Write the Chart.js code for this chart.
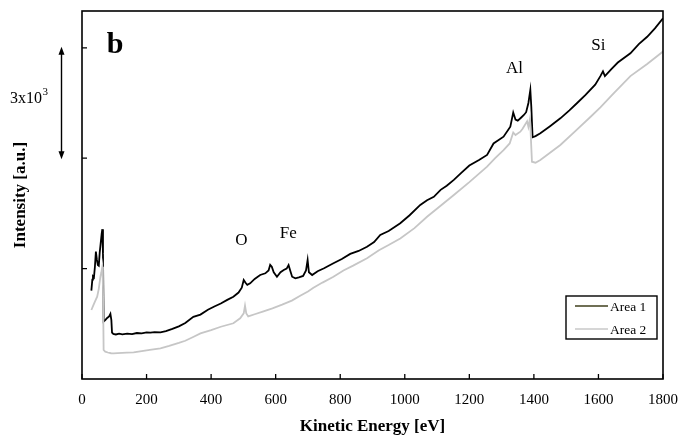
<!DOCTYPE html>
<html>
<head>
<meta charset="utf-8">
<script src="https://cdn.jsdelivr.net/npm/chart.js@4.4.1/dist/chart.umd.min.js"></script>
<style>
  html, body { margin: 0; padding: 0; background: #fff; }
  #wrap { width: 679px; height: 439px; }
</style>
</head>
<body>
<div id="wrap"><canvas id="aes"></canvas></div>
<script>
// Spectrum values (kinetic energy in eV, intensity in a.u.)
const energyArea1 = [29, 32, 34, 37, 40, 43, 46, 49, 52, 55, 58, 61, 63, 65, 67, 72, 78, 84, 88, 91, 93, 97, 105, 115, 125, 140, 155, 170, 185, 200, 212, 225, 243, 260, 280, 300, 320, 345, 367, 390, 410, 430, 450, 469, 485, 495, 501, 506, 512, 521, 535, 552, 568, 578, 583, 588, 594, 604, 615, 625, 634, 640, 645, 651, 661, 672, 685, 694, 699, 703, 713, 730, 750, 779, 805, 831, 857, 883, 905, 924, 950, 986, 1015, 1048, 1069, 1090, 1111, 1130, 1152, 1175, 1200, 1230, 1255, 1275, 1306, 1327, 1336, 1343, 1350, 1360, 1369, 1376, 1383, 1389, 1392, 1396, 1405, 1420, 1450, 1482, 1510, 1534, 1560, 1590, 1606, 1614, 1620, 1640, 1660, 1699, 1725, 1751, 1775, 1800];
const intensityArea1 = [2400, 2700, 2790, 2760, 3050, 3460, 3250, 3100, 3080, 3450, 3700, 3950, 4070, 3400, 1560, 1600, 1660, 1700, 1770, 1600, 1260, 1223, 1210, 1230, 1215, 1235, 1220, 1250, 1240, 1265, 1258, 1275, 1269, 1300, 1360, 1430, 1520, 1690, 1750, 1880, 1970, 2050, 2150, 2236, 2350, 2480, 2690, 2620, 2560, 2600, 2720, 2826, 2872, 2950, 3100, 3050, 2900, 2780, 2900, 2960, 3000, 3098, 2950, 2780, 2736, 2760, 2800, 2950, 3234, 2900, 2826, 2930, 3010, 3144, 3260, 3400, 3480, 3595, 3720, 3913, 4020, 4231, 4450, 4730, 4860, 4950, 5140, 5250, 5410, 5600, 5800, 5950, 6090, 6400, 6584, 6856, 7240, 7050, 7020, 7100, 7174, 7250, 7500, 7853, 7400, 6568, 6600, 6677, 6870, 7084, 7300, 7500, 7720, 8000, 8230, 8360, 8230, 8420, 8600, 8850, 9100, 9300, 9530, 9800];

const energyArea2 = [29, 35, 40, 47, 52, 57, 60, 63, 65, 67, 72, 80, 90, 98, 110, 125, 139, 160, 185, 210, 243, 270, 300, 320, 346, 367, 400, 430, 469, 490, 501, 505, 509, 515, 535, 560, 590, 620, 650, 676, 700, 717, 745, 779, 810, 840, 883, 920, 950, 986, 1030, 1069, 1110, 1152, 1200, 1255, 1280, 1306, 1325, 1336, 1343, 1358, 1365, 1372, 1379, 1383, 1388, 1394, 1405, 1420, 1450, 1482, 1530, 1575, 1606, 1647, 1699, 1751, 1800];
const intensityArea2 = [1875, 2000, 2100, 2236, 2450, 2780, 2900, 3052, 2500, 788, 742, 720, 700, 698, 705, 710, 715, 725, 760, 790, 834, 900, 980, 1040, 1149, 1240, 1330, 1420, 1514, 1650, 1785, 1990, 1780, 1700, 1760, 1830, 1920, 2020, 2130, 2260, 2380, 2480, 2620, 2780, 2950, 3080, 3280, 3500, 3640, 3820, 4100, 4410, 4700, 5000, 5350, 5770, 6000, 6220, 6400, 6700, 6630, 6720, 6800, 6900, 7000, 6850, 7080, 5905, 5878, 5950, 6150, 6360, 6750, 7120, 7380, 7760, 8230, 8560, 8900];

const seriesNames = ["Area 1", "Area 2"];
const xTickValues = [0, 200, 400, 600, 800, 1000, 1200, 1400, 1600, 1800];
const yTickValues = [3000, 6000, 9000];

// Element labels placed at (energy, intensity)
const peakLabels = ["O", "Fe", "Al", "Si"];
const peakLabelEnergy = [494, 639, 1340, 1600];
const peakLabelIntensity = [3750, 3940, 8424, 9049];

const SERIF = "'Liberation Serif', 'Times New Roman', serif";

function toPoints(xs, ys) {
  return xs.map((x, i) => ({ x: x, y: ys[i] }));
}

// Frame, inward ticks, labels, scale arrow and legend
const decorations = {
  id: "decorations",
  afterDraw(chart) {
    const ctx = chart.ctx;
    const area = chart.chartArea;
    const xs = chart.scales.x;
    const ys = chart.scales.y;
    ctx.save();

    // frame
    ctx.strokeStyle = "#000";
    ctx.lineWidth = 1.6;
    ctx.strokeRect(area.left, area.top, area.right - area.left, area.bottom - area.top);

    // inward tick marks
    ctx.lineWidth = 1.3;
    ctx.beginPath();
    xTickValues.forEach((v) => {
      const px = xs.getPixelForValue(v);
      ctx.moveTo(px, area.bottom);
      ctx.lineTo(px, area.bottom - 5);
    });
    yTickValues.forEach((v) => {
      const py = ys.getPixelForValue(v);
      ctx.moveTo(area.left, py);
      ctx.lineTo(area.left + 5, py);
    });
    ctx.stroke();

    // peak labels
    ctx.fillStyle = "#000";
    ctx.font = "17px " + SERIF;
    ctx.textAlign = "center";
    ctx.textBaseline = "middle";
    peakLabels.forEach((t, i) => {
      ctx.fillText(t, xs.getPixelForValue(peakLabelEnergy[i]), ys.getPixelForValue(peakLabelIntensity[i]));
    });

    // panel letter
    ctx.font = "bold 30px " + SERIF;
    ctx.fillText("b", 115, 45);

    // scale arrow: 3x10^3 between ticks 6000 and 9000
    const ax = 61.5;
    const yTop = ys.getPixelForValue(9000);
    const yBot = ys.getPixelForValue(6000);
    ctx.lineWidth = 1.4;
    ctx.beginPath();
    ctx.moveTo(ax, yTop + 5);
    ctx.lineTo(ax, yBot - 5);
    ctx.stroke();
    ctx.beginPath();
    ctx.moveTo(ax, yTop - 1);
    ctx.lineTo(ax - 3, yTop + 7);
    ctx.lineTo(ax + 3, yTop + 7);
    ctx.closePath();
    ctx.moveTo(ax, yBot + 1);
    ctx.lineTo(ax - 3, yBot - 7);
    ctx.lineTo(ax + 3, yBot - 7);
    ctx.closePath();
    ctx.fill();

    ctx.textAlign = "left";
    ctx.textBaseline = "alphabetic";
    ctx.font = "16px " + SERIF;
    ctx.fillText("3x10", 10, 103);
    const baseW = ctx.measureText("3x10").width;
    ctx.font = "11px " + SERIF;
    ctx.fillText("3", 10 + baseW + 0.5, 95);

    // legend
    const lx = 566, ly = 296, lw = 91, lh = 43;
    ctx.fillStyle = "#fff";
    ctx.fillRect(lx, ly, lw, lh);
    ctx.strokeStyle = "#000";
    ctx.lineWidth = 1.4;
    ctx.strokeRect(lx, ly, lw, lh);
    const legendColors = ["#3f3f1c", "#c8c8c8"];
    const rows = [ly + 10, ly + 33];
    ctx.font = "13.5px " + SERIF;
    ctx.textBaseline = "middle";
    seriesNames.forEach((name, i) => {
      ctx.strokeStyle = legendColors[i];
      ctx.lineWidth = 1.6;
      ctx.beginPath();
      ctx.moveTo(575, rows[i]);
      ctx.lineTo(608, rows[i]);
      ctx.stroke();
      ctx.fillStyle = "#000";
      ctx.fillText(name, 610, rows[i] + 1);
    });

    ctx.restore();
  },
};

new Chart(document.getElementById("aes"), {
  type: "line",
  data: {
    datasets: [
      {
        label: seriesNames[1],
        data: toPoints(energyArea2, intensityArea2),
        borderColor: "#c6c6c6",
        borderWidth: 1.8,
        pointRadius: 0,
        tension: 0,
      },
      {
        label: seriesNames[0],
        data: toPoints(energyArea1, intensityArea1),
        borderColor: "#000",
        borderWidth: 1.8,
        pointRadius: 0,
        tension: 0,
      },
    ],
  },
  options: {
    responsive: true,
    maintainAspectRatio: false,
    animation: false,
    events: [],
    layout: { padding: { top: 11, right: 16, left: 0, bottom: 0 } },
    plugins: {
      legend: { display: false },
      tooltip: { enabled: false },
    },
    scales: {
      x: {
        type: "linear",
        min: 0,
        max: 1800,
        grid: { display: false, drawTicks: false },
        border: { display: false },
        afterBuildTicks: (scale) => {
          scale.ticks = xTickValues.map((v) => ({ value: v }));
        },
        afterFit: (scale) => {
          scale.height = 60;
          scale.paddingRight = 0;
        },
        ticks: {
          color: "#000",
          padding: 12,
          maxRotation: 0,
          autoSkip: false,
          callback: (v) => String(v),
          font: { family: SERIF, size: 15 },
        },
        title: {
          display: true,
          text: "Kinetic Energy [eV]",
          color: "#000",
          padding: { top: 0, bottom: 2 },
          font: { family: SERIF, size: 17, weight: "bold" },
        },
      },
      y: {
        type: "linear",
        min: 0,
        max: 10000,
        grid: { display: false, drawTicks: false },
        border: { display: false },
        ticks: { display: false },
        afterFit: (scale) => {
          scale.width = 82;
        },
        title: {
          display: true,
          text: "Intensity [a.u.]",
          color: "#000",
          padding: { top: 10, bottom: 0 },
          font: { family: SERIF, size: 17, weight: "bold" },
        },
      },
    },
  },
  plugins: [decorations],
});
</script>
</body>
</html>
